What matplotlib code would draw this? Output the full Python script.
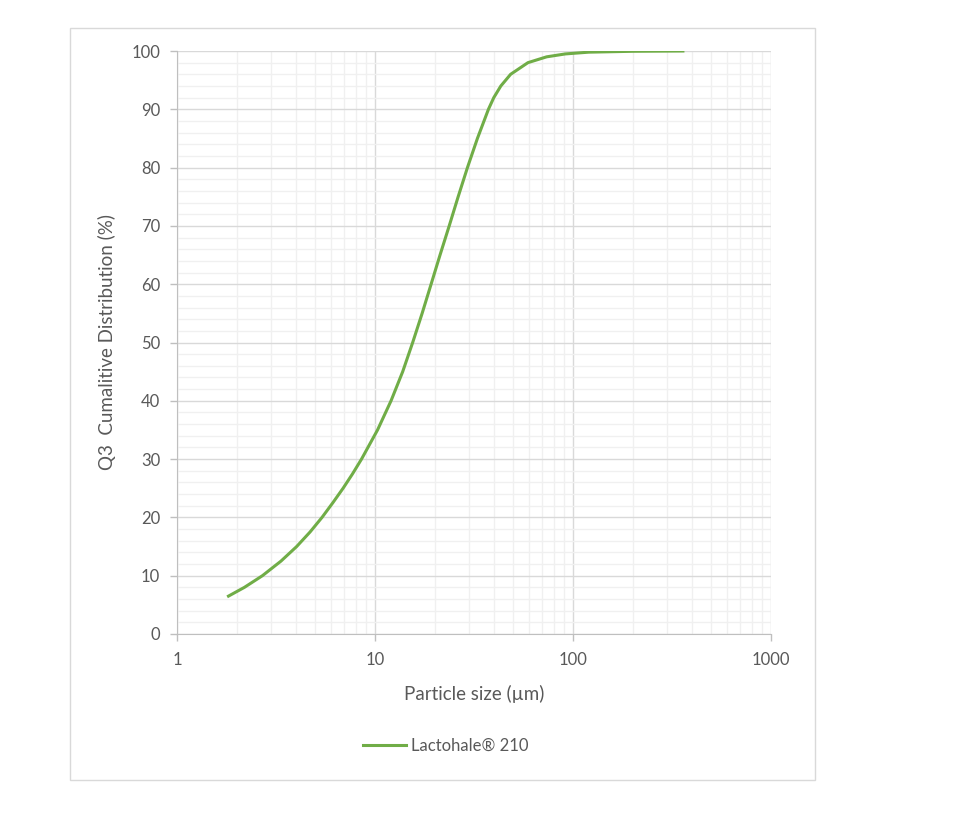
import numpy as np
import matplotlib.pyplot as plt
from matplotlib.patches import Rectangle
from matplotlib.ticker import LogLocator, MultipleLocator, FixedLocator

plt.rcParams['font.family'] = ['Lato', 'DejaVu Sans']

# ---- data ----
size_um = [1.82, 2.19, 2.70, 3.35, 4.02, 4.70, 5.40, 6.12, 6.90, 7.71, 8.55,
           10.3, 12.05, 13.8, 15.5, 17.3, 19.2, 21.3, 23.7, 26.3, 29.3, 32.9,
           37.4, 39.8, 43.2, 48.4, 59.2, 73.6, 91.6, 120, 200, 359]
q3_pct = [6.5, 8, 10, 12.5, 15, 17.5, 20, 22.5, 25, 27.5, 30,
          35, 40, 45, 50, 55, 60, 65, 70, 75, 80, 85,
          90, 92, 94, 96, 98, 99, 99.5, 99.8, 99.95, 100]
series_name = "Lactohale® 210"
x_ticks = [1, 10, 100, 1000]
y_ticks = list(range(0, 101, 10))

green = "#70ad47"
text_col = "#595959"
major_grid = "#d9d9d9"
minor_grid = "#f0f0f0"
axis_col = "#bfbfbf"

fig = plt.figure(figsize=(9.6, 8.32), dpi=100)

# outer chart border
fig.patches.append(Rectangle((70 / 960, 1 - 780 / 832), 745 / 960, 752 / 832,
                             transform=fig.transFigure, fill=False,
                             edgecolor="#d9d9d9", linewidth=1))

ax = fig.add_axes([177 / 960, 1 - 634 / 832, 594 / 960, 583 / 832])
ax.set_xscale("log")
ax.set_xlim(1, 1000)
ax.set_ylim(0, 100)

line, = ax.plot(size_um, q3_pct, color=green, linewidth=2.2,
                solid_joinstyle="round", label=series_name, zorder=3)

# ticks & grid
ax.xaxis.set_major_locator(FixedLocator(x_ticks))
ax.set_xticklabels([str(t) for t in x_ticks])
ax.xaxis.set_minor_locator(LogLocator(base=10, subs=np.arange(2, 10)))
ax.yaxis.set_major_locator(FixedLocator(y_ticks))
ax.yaxis.set_minor_locator(MultipleLocator(2))

ax.grid(which="minor", color=minor_grid, linewidth=1, zorder=0)
ax.grid(which="major", color=major_grid, linewidth=1, zorder=1)
ax.set_axisbelow(True)

ax.tick_params(which="major", length=5, color=axis_col, width=1,
               labelcolor=text_col, labelsize=12)
ax.tick_params(axis="y", pad=7)
ax.tick_params(axis="x", pad=8)
ax.tick_params(which="minor", length=0)

for side in ["top", "right"]:
    ax.spines[side].set_visible(False)
for side in ["left", "bottom"]:
    ax.spines[side].set_color(axis_col)

ax.set_xlabel("Particle size (µm)", color=text_col, fontsize=13.5)
ax.set_ylabel("Q3  Cumalitive Distribution (%)", color=text_col, fontsize=13.5)
ax.xaxis.set_label_coords(0.5, -0.088)
ax.yaxis.set_label_coords(-0.103, 0.5)

leg = fig.legend(handles=[line], loc="center",
                 bbox_to_anchor=(446 / 960, 1 - 746 / 832), frameon=False,
                 fontsize=12, handlelength=2.6, handletextpad=0.3)
for t in leg.get_texts():
    t.set_color(text_col)

fig.savefig("out.png", dpi=100)
